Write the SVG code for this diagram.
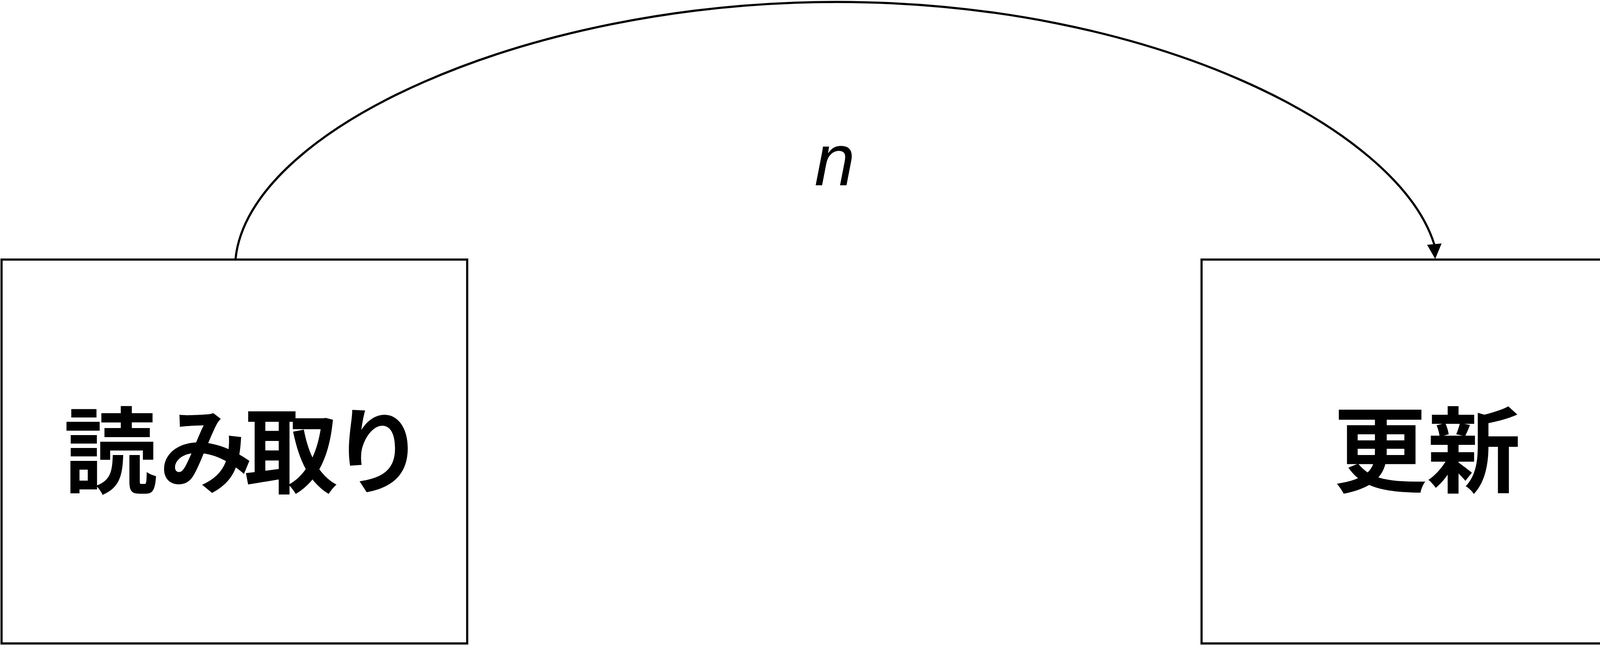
<svg xmlns="http://www.w3.org/2000/svg" width="4290" height="1650" viewBox="0 0 4290 1650">
<style>
.box{fill:#ffffff;stroke:#000000;stroke-width:5.5}
.edge{fill:none;stroke:#000000;stroke-width:5.5}
.jp{font-family:"Noto Sans CJK JP","Noto Sans CJK SC",sans-serif;font-weight:bold;font-size:240px;fill:#000000}
.lbl{font-family:"Liberation Sans",Arial,sans-serif;font-style:italic;font-size:187px;fill:#000000}
</style>
<rect x="0" y="0" width="4290" height="1650" fill="#ffffff"/>
<g id="connectors">
<path class="edge" d="M603,662 C636,332 1342,5 2142,5 C2942,5 3578,325 3672,626"/>
<polygon points="3674,660 3655,627 3689,624" fill="#000000" stroke="#000000" stroke-width="2"/>
<text class="lbl" x="2137" y="474" text-anchor="middle">n</text>
</g>
<g id="node-read">
<rect class="box" x="4" y="664" width="1192" height="982"/>
<text class="jp" x="163 408 625 848" y="1243">読み取り</text>
</g>
<g id="node-update">
<rect class="box" x="3076" y="664" width="1192" height="982"/>
<text class="jp" x="3413" y="1241">更新</text>
</g>
</svg>
